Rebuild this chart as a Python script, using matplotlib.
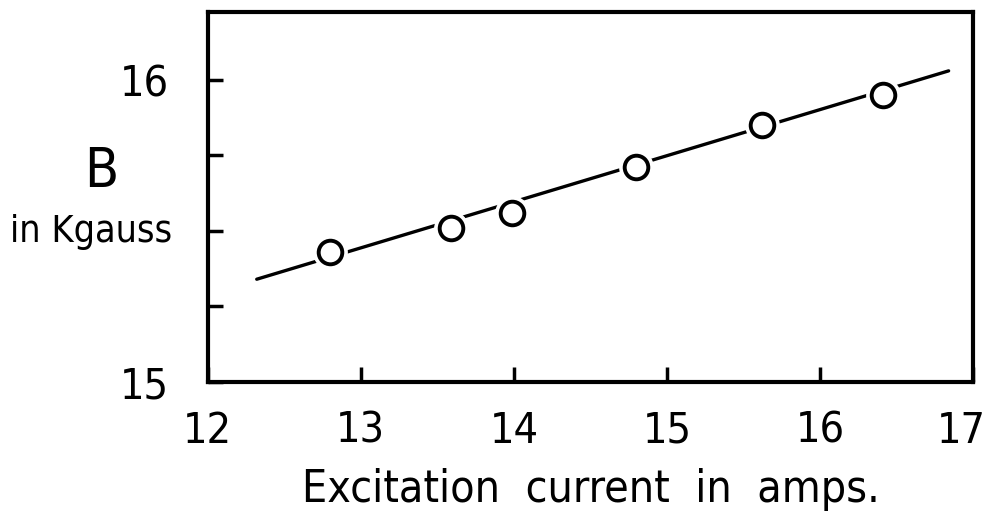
import numpy as np
import matplotlib.pyplot as plt
import matplotlib.transforms as mtransforms

# data
current = [12.8, 13.59, 13.99, 14.8, 15.62, 16.41]  # amps
field = [15.43, 15.51, 15.56, 15.71, 15.85, 15.95]  # kgauss
fit_x = [12.32, 16.84]
fit_y = [15.34, 16.03]
xticks = [12, 13, 14, 15, 16, 17]
yticks = [15, 15.25, 15.5, 15.75, 16]
ytick_labels = ['15', '', '', '', '16']

plt.rcParams['font.family'] = ['DejaVu Sans']
plt.rcParams['font.stretch'] = 'condensed'

fig = plt.figure(figsize=(9.94, 5.21), dpi=100)
ax = fig.add_axes([0.209, 0.267, 0.77, 0.71])

ax.plot(fit_x, fit_y, color='black', lw=2.4, solid_capstyle='round', zorder=2)
# white ring under each circle so the line stops short of it
ax.plot(current, field, 'o', ms=24, mfc='white', mec='white', zorder=3)
ax.plot(current, field, 'o', ms=17, mfc='white', mec='black', mew=2.8, zorder=4)

ax.set_xlim(12, 17)
ax.set_ylim(15, 16.225)
ax.set_xticks(xticks)
ax.set_xticklabels([str(t) for t in xticks])
ax.set_yticks(yticks)
ax.set_yticklabels(ytick_labels)
ax.tick_params(direction='in', length=11, width=2.5, labelsize=31, pad=20)
ax.tick_params(axis='y', pad=28)

# pull the last label ("17") in a little so it stays on the page
last = ax.get_xticklabels()[-1]
last.set_transform(last.get_transform() + mtransforms.ScaledTranslation(-0.12, 0, fig.dpi_scale_trans))

for s in ax.spines.values():
    s.set_linewidth(3)

ax.set_xlabel('Excitation  current  in  amps.', fontsize=32, labelpad=12)
fig.text(0.102, 0.67, 'B', fontsize=40, ha='center', va='center')
fig.text(0.092, 0.555, 'in Kgauss', fontsize=27, ha='center', va='center')

fig.savefig('out.png', dpi=100)
